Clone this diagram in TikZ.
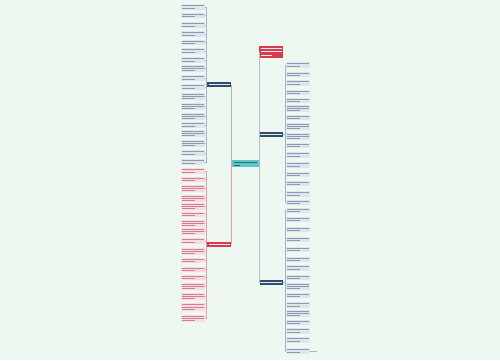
\documentclass[tikz,border=0pt]{standalone}
\usetikzlibrary{calc}
\definecolor{bg}{HTML}{EFF8F0}
\definecolor{leafBfill}{HTML}{DDE5EE}
\definecolor{leafRfill}{HTML}{F8DCE2}
\definecolor{txtBc}{HTML}{8E9BAC}
\definecolor{txtRc}{HTML}{D08090}
\definecolor{linkBc}{HTML}{A3B4C8}
\definecolor{linkRc}{HTML}{E59AA6}
\definecolor{linkGc}{HTML}{B4BCC4}
\definecolor{navy}{HTML}{2F4C6C}
\definecolor{redn}{HTML}{D93A4D}
\definecolor{teal}{HTML}{5CC7CB}
\tikzset{
  leafB/.style={fill=leafBfill, draw=none, inner sep=0pt, outer sep=0pt},
  leafR/.style={fill=leafRfill, draw=none, inner sep=0pt, outer sep=0pt},
  txtB/.style={draw=txtBc, line width=1.0pt},
  txtR/.style={draw=txtRc, line width=1.0pt},
  linkB/.style={draw=linkBc, line width=0.8pt},
  linkR/.style={draw=linkRc, line width=0.8pt},
  linkG/.style={draw=linkGc, line width=0.9pt},
  branch/.style={draw=none, inner sep=0pt, outer sep=0pt},
  whitetxt/.style={draw=white!85!gray, line width=0.9pt},
}
\newcommand{\mmleaf}[6]{%
  \pgfmathsetmacro{\lw}{#4-#2}%
  \pgfmathsetmacro{\lh}{#5-#3}%
  \node[leaf#6, minimum width=\lw pt, minimum height=\lh pt] (#1) at ({(#2+#4)/2},{(#3+#5)/2}) {};
  \pgfmathtruncatemacro{\nl}{max(1,floor((\lh-0.6)/2.1))}%
  \foreach \i in {1,...,\nl}{%
    \pgfmathsetmacro{\ty}{#3+0.3+(\i-0.5)*(\lh-0.6)/\nl}%
    \ifnum\i=\nl\relax
      \pgfmathsetmacro{\xe}{#2+0.6*\lw}%
    \else
      \pgfmathsetmacro{\xe}{#4-1}%
    \fi
    \draw[txt#6] ({#2+1},\ty) -- (\xe,\ty);
  }%
}
\begin{document}
\begin{tikzpicture}[x=1pt,y=-1pt]
\fill[bg] (0,0) rectangle (500,360);
\useasboundingbox (0,0) rectangle (500,360);

% central node
\node[branch, fill=teal, minimum width=27pt, minimum height=7pt] (center) at (245.5,163.5) {};
\draw[draw=teal!55!black, line width=0.8pt] (234,162) -- (257,162);
\draw[draw=teal!55!black, line width=0.8pt] (234,165.2) -- (240,165.2);

% left branch nodes
\node[branch, fill=navy, minimum width=24pt, minimum height=4.5pt] (bl) at (219,84.7) {};
\draw[whitetxt] (208.5,84.7) -- (229.5,84.7);
\node[branch, fill=redn, minimum width=24pt, minimum height=4.5pt] (rl) at (219,244.3) {};
\draw[whitetxt] (208.5,244.3) -- (229.5,244.3);

% right branch nodes
\node[branch, fill=redn, minimum width=24pt, minimum height=12pt] (rt) at (271,52) {};
\draw[whitetxt] (260.5,48.5) -- (281.5,48.5);
\draw[whitetxt] (260.5,51.8) -- (281.5,51.8);
\draw[whitetxt] (260.5,55.1) -- (272,55.1);
\node[branch, fill=navy, minimum width=23pt, minimum height=4.5pt] (br1) at (271.5,134.3) {};
\draw[whitetxt] (261,134.3) -- (282,134.3);
\node[branch, fill=navy, minimum width=23pt, minimum height=4.5pt] (br2) at (271.5,282.3) {};
\draw[whitetxt] (261,282.3) -- (282,282.3);

% left blue leaves
\foreach \a/\b [count=\k] in {4/10,13/18,22/28,31/37,40/45,48/54,57/63,65/72,75/81,84/90,93/100,103/110,113/120,122/128,130/137,140/147,150/156,159/165}{
  \mmleaf{lb\k}{181}{\a}{205}{\b}{B}
}
% left red leaves
\foreach \a/\b [count=\k] in {168/174,177/182,185/192,195/202,203/210,212/217,220/227,228/235,238/244,248/255,258/263,267/272,275/280,283/290,293/300,303/311,315/322}{
  \mmleaf{lr\k}{181}{\a}{205}{\b}{R}
}
% right group 1 leaves
\foreach \a/\b [count=\k] in {62/68,72/77,80/86,90/95,98/103,105/112,115/120,123/130,133/140,143/148,152/158,162/168,172/177,181/186,191/197,200/205}{
  \mmleaf{ra\k}{286}{\a}{310}{\b}{B}
}
% right group 2 leaves
\foreach \a/\b [count=\k] in {208/213,217/222,227/232,237/242,247/252,257/262,265/271,275/280,283/290,293/298,302/308,310/317,320/325,328/334,337/343,348/354}{
  \mmleaf{rb\k}{286}{\a}{310}{\b}{B}
}

% connectors: center to branches
\draw[linkB] (center.west) -- ++(-1,0) |- (bl.east);
\draw[linkR] (center.west) -- ++(-1,0) |- (rl.east);
\draw[linkG] (center.east) -- ++(0.5,0) |- (rt.west);
\draw[linkG] (center.east) -- ++(0.5,0) |- (br1.west);
\draw[linkG] (center.east) -- ++(0.5,0) |- (br2.west);

% connectors: branches to leaves
\foreach \k in {1,...,18}{\draw[linkB] (bl.west) -- ++(-1,0) |- (lb\k.east);}
\foreach \k in {1,...,17}{\draw[linkR] (rl.west) -- ++(-1,0) |- (lr\k.east);}
\foreach \k in {1,...,16}{\draw[linkB] (br1.east) -- ++(2,0) |- (ra\k.west);}
\foreach \k in {1,...,16}{\draw[linkB] (br2.east) -- ++(2,0) |- (rb\k.west);}

% small tail after last leaf
\coordinate (tail) at (317,351);
\draw[linkB] (rb16.east) -- (tail);
\end{tikzpicture}
\end{document}
